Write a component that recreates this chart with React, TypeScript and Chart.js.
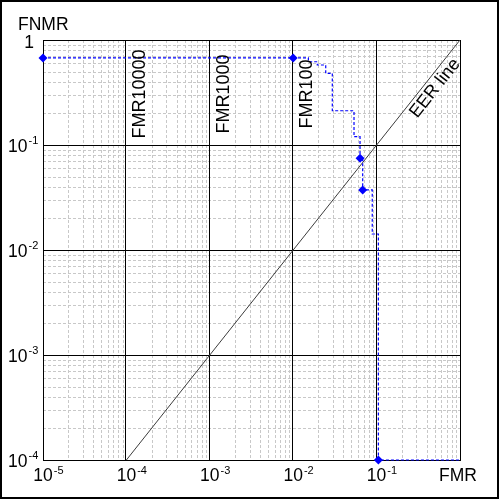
import React, { useEffect, useRef } from "react";
import { Chart, registerables } from "chart.js";

Chart.register(...registerables);

// DET curve (FMR vs FNMR), step points
const detFMR = [1e-5, 0.01, 0.0152, 0.01945, 0.02455, 0.02944, 0.0536, 0.0633, 0.0681, 0.0887, 0.105, 1];
const detFNMR = [0.675, 0.675, 0.621, 0.578, 0.482, 0.212, 0.12, 0.0747, 0.0373, 0.0142, 1e-4, 1e-4];
const detMarker = [1, 1, 0, 0, 0, 0, 0, 1, 1, 0, 1, 0];

// EER line (FMR = FNMR)
const eerFMR = [1e-4, 1];
const eerFNMR = [1e-4, 1];

// axes
const xMin = 1e-5;
const xMax = 1;
const yMin = 1e-4;
const yMax = 1;
const xTickExponents = [-5, -4, -3, -2, -1];
const yTickExponents = [-4, -3, -2, -1];
const yTopLabel = "1";
const xTitle = "FMR";
const yTitle = "FNMR";

// operating point labels
const fmrLabels = ["FMR10000", "FMR1000", "FMR100"];
const fmrLabelValues = [1e-4, 1e-3, 1e-2];
const eerLabel = "EER line";
const eerLabelValue = 0.4;

const FONT = '"Liberation Sans", Arial, sans-serif';

const decorPlugin = {
  id: "decor",
  beforeDraw(chart: any) {
    const ctx = chart.ctx;
    ctx.save();
    ctx.fillStyle = "#ffffff";
    ctx.fillRect(0, 0, chart.width, chart.height);
    ctx.restore();
  },
  beforeDatasetsDraw(chart: any) {
    const { ctx, chartArea, scales } = chart;
    const { left, right, top, bottom } = chartArea;
    const xs = scales.x;
    const ys = scales.y;
    ctx.save();
    const line = (x1: number, y1: number, x2: number, y2: number) => {
      ctx.beginPath();
      ctx.moveTo(x1, y1);
      ctx.lineTo(x2, y2);
      ctx.stroke();
    };
    // minor grid
    ctx.strokeStyle = "#c8c8c8";
    ctx.lineWidth = 1;
    ctx.setLineDash([3, 2]);
    for (let e = Math.round(Math.log10(xMin)); e < Math.round(Math.log10(xMax)); e++) {
      for (let m = 2; m <= 9; m++) {
        const px = Math.round(xs.getPixelForValue(m * Math.pow(10, e))) + 0.5;
        line(px, top, px, bottom);
      }
    }
    for (let e = Math.round(Math.log10(yMin)); e < Math.round(Math.log10(yMax)); e++) {
      for (let m = 2; m <= 9; m++) {
        const py = Math.round(ys.getPixelForValue(m * Math.pow(10, e))) + 0.5;
        line(left, py, right, py);
      }
    }
    // major grid
    ctx.setLineDash([]);
    ctx.strokeStyle = "#000000";
    for (let e = Math.round(Math.log10(xMin)) + 1; e < Math.round(Math.log10(xMax)); e++) {
      const px = Math.round(xs.getPixelForValue(Math.pow(10, e))) - 0.5;
      line(px, top, px, bottom);
    }
    for (let e = Math.round(Math.log10(yMin)) + 1; e < Math.round(Math.log10(yMax)); e++) {
      const py = Math.round(ys.getPixelForValue(Math.pow(10, e))) + 0.5;
      line(left, py, right, py);
    }
    // plot border
    ctx.strokeRect(Math.round(left) + 0.5, Math.round(top) + 0.5, Math.round(right - left), Math.round(bottom - top));
    ctx.restore();
  },
  afterDraw(chart: any) {
    const { ctx, chartArea, scales } = chart;
    const { top, bottom } = chartArea;
    const xs = scales.x;
    const ys = scales.y;
    ctx.save();
    // outer frame
    ctx.strokeStyle = "#000";
    ctx.lineWidth = 2;
    ctx.strokeRect(1, 1, chart.width - 3, chart.height - 3);

    ctx.fillStyle = "#000";
    // x tick labels
    ctx.textBaseline = "alphabetic";
    for (const e of xTickExponents) {
      const px = xs.getPixelForValue(Math.pow(10, e));
      ctx.font = `17.5px ${FONT}`;
      ctx.textAlign = "center";
      const w = ctx.measureText("10").width;
      ctx.fillText("10", px, bottom + 21);
      ctx.font = `11px ${FONT}`;
      ctx.textAlign = "left";
      ctx.fillText(String(e), px + w / 2 + 1, bottom + 14);
    }
    // y tick labels
    for (const e of yTickExponents) {
      const py = ys.getPixelForValue(Math.pow(10, e));
      ctx.font = `17.5px ${FONT}`;
      ctx.textAlign = "left";
      const w = ctx.measureText("10").width;
      ctx.fillText("10", 8, py + 7);
      ctx.font = `11px ${FONT}`;
      ctx.fillText(String(e), 8 + w + 1, py - 1);
    }
    ctx.font = `17.5px ${FONT}`;
    ctx.textAlign = "right";
    ctx.fillText(yTopLabel, 34, ys.getPixelForValue(yMax) + 8);

    // axis titles
    ctx.font = `17.5px ${FONT}`;
    ctx.textAlign = "left";
    ctx.fillText(yTitle, 18, top - 10.5);
    ctx.fillText(xTitle, xs.getPixelForValue(xMax) - 21, bottom + 21);

    // FMR operating point labels
    ctx.font = `18px ${FONT}`;
    fmrLabels.forEach((lab, i) => {
      const px = xs.getPixelForValue(fmrLabelValues[i]);
      ctx.save();
      ctx.translate(px + 19, top + 54);
      ctx.rotate(-Math.PI / 2);
      ctx.textAlign = "center";
      ctx.fillText(lab, 0, 0);
      ctx.restore();
    });

    // EER label
    const ax1 = xs.getPixelForValue(eerFMR[0]);
    const ay1 = ys.getPixelForValue(eerFNMR[0]);
    const ax2 = xs.getPixelForValue(eerFMR[1]);
    const ay2 = ys.getPixelForValue(eerFNMR[1]);
    const ang = Math.atan2(ay2 - ay1, ax2 - ax1);
    ctx.save();
    ctx.translate(xs.getPixelForValue(eerLabelValue), ys.getPixelForValue(eerLabelValue));
    ctx.rotate(ang);
    ctx.textAlign = "center";
    ctx.fillText(eerLabel, 0, 15.5);
    ctx.restore();

    ctx.restore();
  },
};

export default function App() {
  const canvasRef = useRef<HTMLCanvasElement | null>(null);

  useEffect(() => {
    if (!canvasRef.current) return;
    const detData = detFMR.map((x, i) => ({ x, y: detFNMR[i] }));
    const eerData = eerFMR.map((x, i) => ({ x, y: eerFNMR[i] }));
    const chart = new Chart(canvasRef.current, {
      type: "scatter",
      data: {
        datasets: [
          {
            label: "DET",
            data: detData,
            showLine: true,
            stepped: true,
            borderColor: "#0000ff",
            backgroundColor: "#0000ff",
            borderWidth: 1.2,
            borderDash: [3, 2],
            pointStyle: "rectRot",
            pointRadius: detMarker.map((m) => (m ? 4.5 : 0)),
            pointBorderWidth: 0,
            clip: false as any,
            order: 1,
          } as any,
          {
            label: "EER",
            data: eerData,
            showLine: true,
            borderColor: "#3c3c3c",
            borderWidth: 1,
            pointRadius: 0,
            order: 2,
          } as any,
        ],
      },
      options: {
        animation: false,
        responsive: false,
        events: [],
        layout: { padding: { left: 43, top: 40, right: 40, bottom: 40 } },
        plugins: {
          legend: { display: false },
          tooltip: { enabled: false },
        },
        scales: {
          x: {
            type: "logarithmic",
            display: false,
            min: xMin,
            max: xMax,
          },
          y: {
            type: "logarithmic",
            display: false,
            min: yMin,
            max: yMax,
          },
        },
      },
      plugins: [decorPlugin],
    });
    return () => chart.destroy();
  }, []);

  return (
    <div style={{ position: "absolute", left: 0, top: 0, width: 500, height: 500 }}>
      <canvas ref={canvasRef} width={500} height={500} style={{ display: "block" }} />
    </div>
  );
}
